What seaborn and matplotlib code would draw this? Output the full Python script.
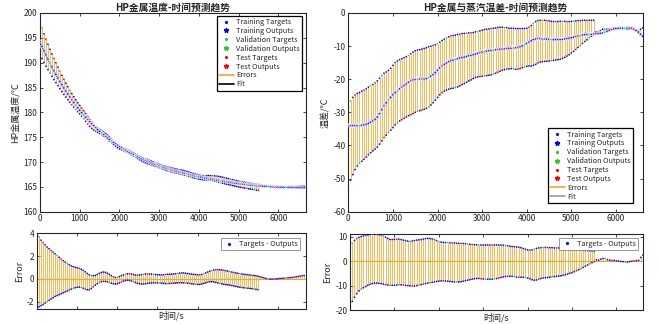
import numpy as np
import pandas as pd
import matplotlib
matplotlib.use("Agg")
import matplotlib.pyplot as plt
import seaborn as sns
from matplotlib.lines import Line2D

# ---------------- data ----------------
STEP = 50  # sampling interval in seconds

left_output = [
    194.2, 193.28, 192.40, 191.54, 190.71, 189.90, 189.12, 188.36, 187.63, 186.92,
    186.23, 185.56, 184.91, 184.29, 183.68, 183.09, 182.52, 181.97, 181.44, 180.92,
    180.42, 179.93, 179.46, 179.00, 178.56, 178.13, 177.72, 177.31, 176.92, 176.55,
    176.18, 175.83, 175.48, 175.15, 174.83, 174.52, 174.21, 173.92, 173.64, 173.36,
    173.09, 172.84, 172.59, 172.34, 172.11, 171.88, 171.66, 171.45, 171.24, 171.04,
    170.84, 170.66, 170.47, 170.30, 170.13, 169.96, 169.80, 169.64, 169.49, 169.35,
    169.21, 169.07, 168.94, 168.81, 168.68, 168.56, 168.45, 168.33, 168.22, 168.12,
    168.01, 167.91, 167.81, 167.70, 167.60, 167.50, 167.40, 167.30, 167.21, 167.13,
    167.05, 166.97, 166.89, 166.81, 166.73, 166.66, 166.58, 166.51, 166.44, 166.37,
    166.30, 166.23, 166.16, 166.10, 166.03, 165.97, 165.91, 165.85, 165.79, 165.74,
    165.68, 165.63, 165.58, 165.53, 165.48, 165.43, 165.39, 165.35, 165.31, 165.27,
    165.23, 165.20, 165.17, 165.14, 165.11, 165.08, 165.06, 165.04, 165.02, 165.00,
    164.98, 164.96, 164.95, 164.93, 164.92, 164.91, 164.90, 164.89, 164.88, 164.87,
    164.87, 164.86, 164.86, 164.85,
]
left_err_upper = [
    4.0, 3.7, 3.4, 3.2, 3.0, 2.8, 2.65, 2.5, 2.35, 2.2,
    2.05, 1.9, 1.75, 1.6, 1.48, 1.36, 1.25, 1.15, 1.08, 1.02,
    0.97, 0.93, 0.85, 0.75, 0.62, 0.48, 0.36, 0.30, 0.28, 0.30,
    0.38, 0.48, 0.56, 0.60, 0.58, 0.50, 0.40, 0.28, 0.18, 0.12,
    0.14, 0.20, 0.28, 0.34, 0.40, 0.44, 0.45, 0.43, 0.38, 0.33,
    0.32, 0.34, 0.37, 0.40, 0.42, 0.43, 0.43, 0.42, 0.40, 0.38,
    0.36, 0.35, 0.35, 0.36, 0.38, 0.40, 0.41, 0.42, 0.43, 0.45,
    0.48, 0.50, 0.52, 0.52, 0.50, 0.47, 0.44, 0.42, 0.40, 0.38,
    0.36, 0.35, 0.38, 0.44, 0.52, 0.60, 0.67, 0.73, 0.77, 0.80,
    0.81, 0.80, 0.78, 0.75, 0.72, 0.68, 0.64, 0.60, 0.56, 0.52,
    0.49, 0.46, 0.43, 0.40, 0.38, 0.36, 0.34, 0.32, 0.30, 0.27,
    0.24,
]
left_err_lower = [
    -2.55, -2.45, -2.35, -2.25, -2.12, -2.0, -1.88, -1.76, -1.65, -1.54,
    -1.46, -1.38, -1.30, -1.22, -1.14, -1.06, -0.98, -0.90, -0.84, -0.78,
    -0.74, -0.72, -0.75, -0.82, -0.90, -0.95, -0.95, -0.85, -0.70, -0.55,
    -0.42, -0.32, -0.25, -0.22, -0.22, -0.26, -0.32, -0.38, -0.43, -0.45,
    -0.42, -0.36, -0.28, -0.20, -0.14, -0.12, -0.14, -0.19, -0.25, -0.32,
    -0.38, -0.42, -0.45, -0.45, -0.43, -0.40, -0.37, -0.35, -0.34, -0.34,
    -0.35, -0.36, -0.38, -0.40, -0.41, -0.41, -0.40, -0.39, -0.38, -0.36,
    -0.35, -0.34, -0.34, -0.35, -0.36, -0.38, -0.40, -0.43, -0.46, -0.48,
    -0.49, -0.48, -0.45, -0.40, -0.34, -0.28, -0.25, -0.24, -0.26, -0.30,
    -0.35, -0.40, -0.44, -0.47, -0.50, -0.52, -0.55, -0.58, -0.62, -0.66,
    -0.70, -0.73, -0.76, -0.78, -0.80, -0.82, -0.84, -0.86, -0.88, -0.92,
    -0.96,
]
left_err_tail = [
    0.18, 0.14, 0.09, 0.04, 0.01, -0.01, -0.02, -0.01, 0.0, 0.02,
    0.04, 0.05, 0.06, 0.07, 0.09, 0.11, 0.13, 0.15, 0.18, 0.21,
    0.24, 0.27, 0.30,
]

right_output = [
    -34.0, -34.0, -34.0, -34.0, -34.0, -34.0, -33.9, -33.8, -33.6, -33.3,
    -33.0, -32.6, -32.1, -31.4, -30.4, -29.2, -28.0, -27.1, -26.2, -25.5,
    -24.7, -24.0, -23.5, -22.9, -22.4, -21.9, -21.4, -20.9, -20.5, -20.2,
    -20.0, -19.9, -19.9, -19.9, -19.9, -19.8, -19.5, -19.1, -18.6, -18.0,
    -17.3, -16.6, -16.0, -15.5, -15.1, -14.7, -14.4, -14.2, -14.0, -13.8,
    -13.6, -13.4, -13.3, -13.1, -12.9, -12.8, -12.6, -12.4, -12.2, -12.0,
    -11.8, -11.6, -11.5, -11.4, -11.3, -11.2, -11.1, -11.0, -10.9, -10.8,
    -10.8, -10.7, -10.7, -10.6, -10.5, -10.5, -10.4, -10.2, -9.9, -9.6,
    -9.2, -8.8, -8.4, -8.0, -7.8, -7.7, -7.7, -7.8, -7.8, -7.9,
    -7.9, -8.0, -8.0, -8.0, -8.0, -8.0, -7.9, -7.8, -7.7, -7.6,
    -7.4, -7.3, -7.1, -6.9, -6.8, -6.6, -6.5, -6.5, -6.4, -6.4,
    -6.3, -6.2, -6.2, -6.1, -6.0, -5.8, -5.5, -5.2, -5.0, -4.8,
    -4.7, -4.6, -4.5, -4.5, -4.5, -4.5, -4.5, -4.6, -4.9, -5.3,
    -5.8, -6.4, -7.0,
]
right_err_upper = [
    5.9, 7.4, 8.5, 9.2, 9.7, 10.0, 10.3, 10.5, 10.7, 10.9,
    11.0, 11.0, 11.0, 10.9, 10.7, 10.3, 9.8, 9.3, 8.9, 8.8,
    8.9, 9.0, 9.0, 8.8, 8.6, 8.4, 8.2, 8.1, 8.2, 8.4,
    8.6, 8.7, 8.8, 9.0, 9.2, 9.3, 9.3, 9.1, 8.8, 8.4,
    8.0, 7.8, 7.7, 7.6, 7.6, 7.5, 7.5, 7.4, 7.3, 7.3,
    7.2, 7.2, 7.1, 7.0, 6.9, 6.8, 6.7, 6.7, 6.6, 6.6,
    6.6, 6.6, 6.6, 6.6, 6.6, 6.6, 6.6, 6.6, 6.6, 6.5,
    6.4, 6.3, 6.1, 6.0, 5.9, 5.8, 5.7, 5.5, 5.2, 4.9,
    4.6, 4.5, 4.6, 4.9, 5.2, 5.4, 5.5, 5.6, 5.6, 5.6,
    5.5, 5.5, 5.4, 5.4, 5.4, 5.5, 5.4, 5.3, 5.1, 5.0,
    4.9, 4.8, 4.7, 4.6, 4.5, 4.4, 4.3, 4.3, 4.2, 4.2,
    4.1,
]
right_err_lower = [
    -18.8, -16.5, -14.8, -13.3, -12.2, -11.4, -10.9, -10.4, -9.9, -9.5,
    -9.2, -9.0, -9.0, -9.1, -9.2, -9.4, -9.6, -9.8, -9.9, -9.9,
    -9.9, -9.8, -9.7, -9.7, -9.8, -9.9, -10.0, -10.1, -10.2, -10.2,
    -10.0, -9.8, -9.6, -9.4, -9.2, -9.0, -8.9, -8.7, -8.5, -8.3,
    -8.2, -8.1, -8.1, -8.1, -8.2, -8.3, -8.4, -8.5, -8.5, -8.5,
    -8.4, -8.2, -8.0, -7.8, -7.6, -7.4, -7.2, -7.1, -7.1, -7.2,
    -7.3, -7.4, -7.4, -7.4, -7.4, -7.3, -7.1, -6.9, -6.7, -6.5,
    -6.3, -6.2, -6.2, -6.2, -6.3, -6.5, -6.6, -6.6, -6.6, -6.7,
    -6.9, -7.2, -7.6, -7.8, -7.7, -7.4, -7.1, -6.9, -6.8, -6.7,
    -6.6, -6.4, -6.3, -6.2, -6.1, -6.0, -5.8, -5.6, -5.3, -5.0,
    -4.7, -4.3, -3.9, -3.5, -3.1, -2.6, -2.1, -1.6, -1.1, -0.6,
    -0.2,
]
right_err_tail = [
    0.5, 0.4, 0.8, 1.1, 1.0, 0.6, 0.4, 0.3, 0.3, 0.1,
    0.0, -0.1, -0.2, -0.3, -0.4, -0.2, 0.0, 0.1, 0.2, 0.3,
    1.5, 2.5,
]

# Dataset membership of consecutive samples (T = training, V = validation, S = test)
SPLIT_PATTERN = "TTVTTTSTTTTVTTSTTTTTVTTTSTTTTTVTTSTTTVTTTTS"
SPLIT_NAMES = {"T": "Training", "V": "Validation", "S": "Test"}

titles = ["HP金属温度-时间预测趋势", "HP金属与蒸汽温差-时间预测趋势"]
ylabels = ["HP金属温度/℃", "温差/℃"]
xlabel = "时间/s"

# ---------------- style ----------------
BLUE, GREEN, RED = "#0000FF", "#22CC22", "#FF0000"
ORANGE = "#F5A623"
PALETTE = {"Training": BLUE, "Validation": GREEN, "Test": RED}
TXT = "#262626"

sns.set_style("ticks")
plt.rcParams["font.family"] = ["Noto Sans CJK SC", "DejaVu Sans"]
plt.rcParams["axes.unicode_minus"] = False
plt.rcParams["axes.edgecolor"] = TXT
plt.rcParams["xtick.color"] = TXT
plt.rcParams["ytick.color"] = TXT


def build(output, up, low, tail):
    t = np.arange(len(output)) * STEP
    rows = []
    k = 0
    n_pair = min(len(up), len(low), len(output))
    for i in range(n_pair):
        for e in (up[i], low[i]):
            s = SPLIT_NAMES[SPLIT_PATTERN[k % len(SPLIT_PATTERN)]]
            rows.append((t[i], output[i] + e, output[i], e, s))
            k += 1
    for j, e in enumerate(tail):
        i = n_pair + j
        if i >= len(output):
            break
        s = SPLIT_NAMES[SPLIT_PATTERN[k % len(SPLIT_PATTERN)]]
        rows.append((t[i], output[i] + e, output[i], e, s))
        k += 1
    df = pd.DataFrame(rows, columns=["t", "target", "output", "error", "split"])
    return t, df


def style_axes(ax, labels=True):
    ax.tick_params(direction="in", top=True, right=True, length=2.5, width=0.6,
                   labelsize=6, pad=2, labelcolor=TXT)
    for sp in ax.spines.values():
        sp.set_linewidth(0.8)
        sp.set_visible(True)
    if not labels:
        ax.tick_params(labelbottom=False)


def draw_main(ax, t, df, output, xlim, ylim, yticks, title, ylabel, fit_color,
              leg_loc, leg_anchor):
    lo = df[["target", "output"]].min(axis=1)
    hi = df[["target", "output"]].max(axis=1)
    ax.vlines(df["t"], lo, hi, color=ORANGE, lw=0.55, zorder=1)
    sns.lineplot(x=t, y=output, ax=ax, color=fit_color, lw=0.6, zorder=2,
                 legend=False)
    sns.scatterplot(data=df, x="t", y="target", hue="split", palette=PALETTE,
                    marker=".", s=6, linewidth=0, ax=ax, legend=False, zorder=3)
    sns.scatterplot(data=df, x="t", y="output", hue="split", palette=PALETTE,
                    marker="*", s=10, linewidth=0.3, ax=ax, legend=False, zorder=4)
    ax.set_xlim(*xlim)
    ax.set_ylim(*ylim)
    ax.set_xticks([0, 1000, 2000, 3000, 4000, 5000, 6000])
    ax.set_yticks(yticks)
    ax.set_xlabel("")
    ax.set_ylabel(ylabel, fontsize=6.5, color=TXT, labelpad=2)
    ax.set_title(title, fontsize=7, fontweight="bold", color=TXT, pad=2)
    style_axes(ax)
    handles = [
        Line2D([], [], ls="", marker=".", ms=2.5, color=BLUE),
        Line2D([], [], ls="", marker="*", ms=3.5, color=BLUE),
        Line2D([], [], ls="", marker=".", ms=2.5, color=GREEN),
        Line2D([], [], ls="", marker="*", ms=3.5, color=GREEN),
        Line2D([], [], ls="", marker=".", ms=2.5, color=RED),
        Line2D([], [], ls="", marker="*", ms=3.5, color=RED),
        Line2D([], [], color=ORANGE, lw=1.2),
        Line2D([], [], color=fit_color, lw=1.2),
    ]
    labels = ["Training Targets", "Training Outputs", "Validation Targets",
              "Validation Outputs", "Test Targets", "Test Outputs", "Errors", "Fit"]
    leg = ax.legend(handles, labels, loc=leg_loc, bbox_to_anchor=leg_anchor,
                    fontsize=5.3, frameon=True, fancybox=False, framealpha=1,
                    edgecolor="#000000", borderpad=0.3, labelspacing=0.12,
                    handlelength=2.0, handletextpad=0.3, borderaxespad=0)
    leg.get_frame().set_linewidth(0.9)


def draw_err(ax, df, xlim, ylim, yticks, leg_anchor):
    ax.vlines(df["t"], 0, df["error"], color=ORANGE, lw=0.55, zorder=1)
    ax.axhline(0, color=ORANGE, lw=0.8, zorder=2)
    sns.scatterplot(data=df, x="t", y="error", hue="split", palette=PALETTE,
                    marker=".", s=6, linewidth=0, ax=ax, legend=False, zorder=3)
    ax.set_xlim(*xlim)
    ax.set_ylim(*ylim)
    ax.set_xticks([1000, 2000, 3000, 4000, 5000, 6000])
    ax.set_yticks(yticks)
    ax.set_ylabel("Error", fontsize=6.5, color=TXT, labelpad=2)
    ax.set_xlabel(xlabel, fontsize=6.5, color=TXT, labelpad=2)
    style_axes(ax, labels=False)
    h = [Line2D([], [], ls="", marker=".", ms=2.5, color=BLUE)]
    leg = ax.legend(h, ["Targets - Outputs"], loc="upper right",
                    bbox_to_anchor=leg_anchor, fontsize=5.3, frameon=True,
                    fancybox=False, framealpha=1, edgecolor="#888888",
                    borderpad=0.3, handlelength=1.6, handletextpad=0.5,
                    borderaxespad=0)
    leg.get_frame().set_linewidth(0.6)


fig = plt.figure(figsize=(6.58, 3.24), dpi=100)
fig.patch.set_facecolor("white")

ax_lm = fig.add_axes([40 / 658, 1 - 211.7 / 324, 265.7 / 658, 198.7 / 324])
ax_le = fig.add_axes([37 / 658, 1 - 308.5 / 324, 268.7 / 658, 75.2 / 324])
ax_rm = fig.add_axes([348.3 / 658, 1 - 211.7 / 324, 294.4 / 658, 198.7 / 324])
ax_re = fig.add_axes([350 / 658, 1 - 310 / 324, 293 / 658, 76 / 324])

tL, dfL = build(left_output, left_err_upper, left_err_lower, left_err_tail)
tR, dfR = build(right_output, right_err_upper, right_err_lower, right_err_tail)

draw_main(ax_lm, tL, dfL, left_output, (0, 6690), (160, 200),
          [160, 165, 170, 175, 180, 185, 190, 195, 200], titles[0], ylabels[0],
          "#000000", "upper right", (0.985, 0.985))
draw_err(ax_le, dfL, (0, 6690), (-2.6, 4.0), [-2, 0, 2, 4], (0.979, 0.937))

draw_main(ax_rm, tR, dfR, right_output, (0, 6600), (-60, 0),
          [-60, -50, -40, -30, -20, -10, 0], titles[1], ylabels[1],
          "#999999", "lower right", (0.967, 0.044))
draw_err(ax_re, dfR, (0, 6600), (-20, 11.1), [-20, -10, 0, 10], (0.983, 0.95))

fig.savefig("out.png", dpi=100, facecolor="white")
